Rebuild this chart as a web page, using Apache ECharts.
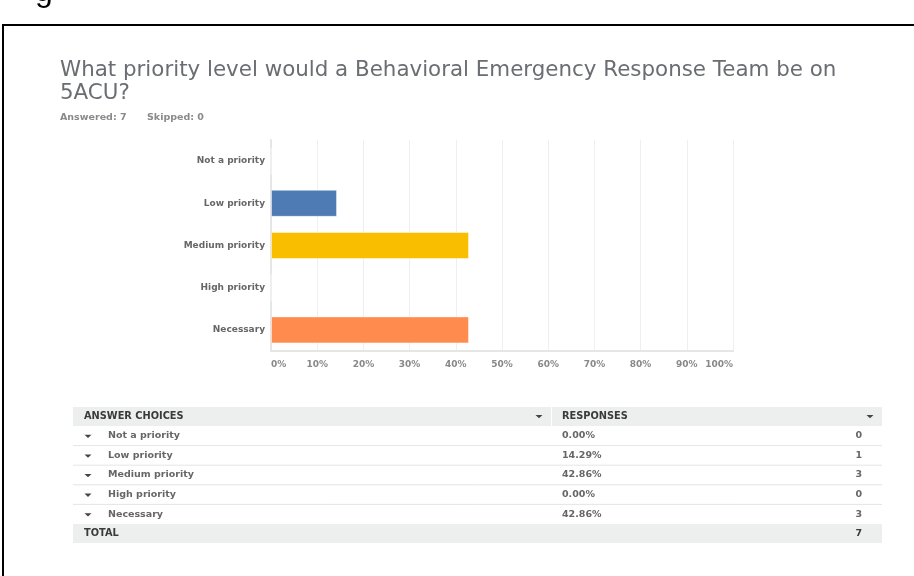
<!DOCTYPE html>
<html>
<head>
<meta charset="utf-8">
<script src="https://cdn.jsdelivr.net/npm/echarts@6/dist/echarts.min.js"></script>
<style>
html,body{margin:0;padding:0;background:#fff;}
#chart{width:914px;height:576px;}
</style>
</head>
<body>
<div id="chart"></div>
<script>
// ---- data ----
var categories = ['Not a priority', 'Low priority', 'Medium priority', 'High priority', 'Necessary'];
var percents = [0, 14.29, 42.86, 0, 42.86];
var counts = [0, 1, 3, 0, 3];
var barColors = ['#4f7bb5', '#4f7bb5', '#f9be00', '#4f7bb5', '#ff8b4f'];
var titleText = 'What priority level would a Behavioral Emergency Response Team be on\n5ACU?';
var answered = 7;
var skipped = 0;
var headerLabels = ['ANSWER CHOICES', 'RESPONSES'];
var totalLabel = 'TOTAL';

var FONT = '"DejaVu Sans", Verdana, sans-serif';
var chart = echarts.init(document.getElementById('chart'), null, {renderer: 'canvas'});

var g = [];
// frame
g.push({type: 'rect', shape: {x: 3, y: 25, width: 940, height: 600}, style: {fill: 'none', stroke: '#000', lineWidth: 2}, silent: true});
// cropped glyph at top
g.push({type: 'text', x: 35, y: -24, style: {text: 'g', font: '32px Arial, "Liberation Sans", sans-serif', fill: '#000'}});
// subtitle
g.push({type: 'text', x: 60, y: 118, style: {text: 'Answered: ' + answered, font: 'bold 9.5px ' + FONT, fill: '#8a8a8a', verticalAlign: 'middle'}});
g.push({type: 'text', x: 147, y: 118, style: {text: 'Skipped: ' + skipped, font: 'bold 9.5px ' + FONT, fill: '#8a8a8a', verticalAlign: 'middle'}});

var tL = 73, tR = 882, colX = 551;
var headTop = 407, rowH = 19.6;
var TF = 'bold 9.5px ' + FONT;
var TC = '#666';
g.push({type: 'rect', shape: {x: tL, y: headTop, width: colX - tL, height: 19}, style: {fill: '#edeeee'}});
g.push({type: 'rect', shape: {x: colX + 1, y: headTop, width: tR - colX - 1, height: 19}, style: {fill: '#edeeee'}});
g.push({type: 'text', x: 84, y: headTop + 9.5, style: {text: headerLabels[0], font: 'bold 9.8px ' + FONT, fill: '#3a3a3a', verticalAlign: 'middle'}});
g.push({type: 'text', x: 562, y: headTop + 9.5, style: {text: headerLabels[1], font: 'bold 9.8px ' + FONT, fill: '#3a3a3a', verticalAlign: 'middle'}});
function arrow(cx, cy, col) {
  return {type: 'polygon', shape: {points: [[cx - 3.5, cy - 1.5], [cx + 3.5, cy - 1.5], [cx, cy + 1.8]]}, style: {fill: col}};
}
g.push(arrow(539, headTop + 9.5, '#444'));
g.push(arrow(870, headTop + 9.5, '#444'));
var total = 0;
for (var i = 0; i < categories.length; i++) {
  var rowTop = headTop + 19 + i * rowH;
  var cy = rowTop + rowH / 2;
  total += counts[i];
  g.push(arrow(88, cy + 0.5, '#444'));
  g.push({type: 'text', x: 108, y: cy, style: {text: categories[i], font: TF, fill: TC, verticalAlign: 'middle'}});
  g.push({type: 'text', x: 562, y: cy, style: {text: percents[i].toFixed(2) + '%', font: TF, fill: TC, verticalAlign: 'middle'}});
  g.push({type: 'text', x: 862, y: cy, style: {text: String(counts[i]), font: TF, fill: TC, align: 'right', verticalAlign: 'middle'}});
  if (i < categories.length - 1) {
    g.push({type: 'line', shape: {x1: tL, y1: rowTop + rowH, x2: tR, y2: rowTop + rowH}, style: {stroke: '#e3e5e6', lineWidth: 1}});
  }
}
var totTop = headTop + 19 + categories.length * rowH;
g.push({type: 'rect', shape: {x: tL, y: totTop, width: tR - tL, height: 19}, style: {fill: '#edeeee'}});
g.push({type: 'text', x: 84, y: totTop + 9.5, style: {text: totalLabel, font: 'bold 9.8px ' + FONT, fill: '#3a3a3a', verticalAlign: 'middle'}});
g.push({type: 'text', x: 862, y: totTop + 9.5, style: {text: String(total), font: 'bold 9.5px ' + FONT, fill: '#3a3a3a', align: 'right', verticalAlign: 'middle'}});

var option = {
  backgroundColor: '#fff',
  animation: false,
  title: {
    text: titleText,
    left: 55, top: 54,
    textStyle: {fontFamily: FONT, fontSize: 21.4, fontWeight: 'normal', color: '#6a6d72', lineHeight: 23}
  },
  grid: {left: 271, right: 181, top: 140, bottom: 225, containLabel: false},
  xAxis: {
    type: 'value', min: 0, max: 100, interval: 10,
    axisLine: {show: true, lineStyle: {color: '#e6e6e6', width: 2}},
    axisTick: {show: false},
    splitLine: {show: true, lineStyle: {color: '#efefef', width: 1}},
    axisLabel: {formatter: '{value}%', fontFamily: FONT, fontSize: 9, fontWeight: 'bold', color: '#888', margin: 9, alignMinLabel: 'left', alignMaxLabel: 'right'}
  },
  yAxis: {
    type: 'category', data: categories, inverse: true,
    axisLine: {show: true, lineStyle: {color: '#e6e6e6', width: 2}},
    axisTick: {show: false},
    axisLabel: {fontFamily: FONT, fontSize: 9, fontWeight: 'bold', color: '#666', margin: 6}
  },
  series: [{
    type: 'bar',
    data: percents.map(function (v, i) { return {value: v, itemStyle: {color: barColors[i]}}; }),
    barWidth: 27,
    itemStyle: {borderColor: 'rgba(255,255,255,0.45)', borderWidth: 1}
  }],
  graphic: g
};
chart.setOption(option);
</script>
</body>
</html>
